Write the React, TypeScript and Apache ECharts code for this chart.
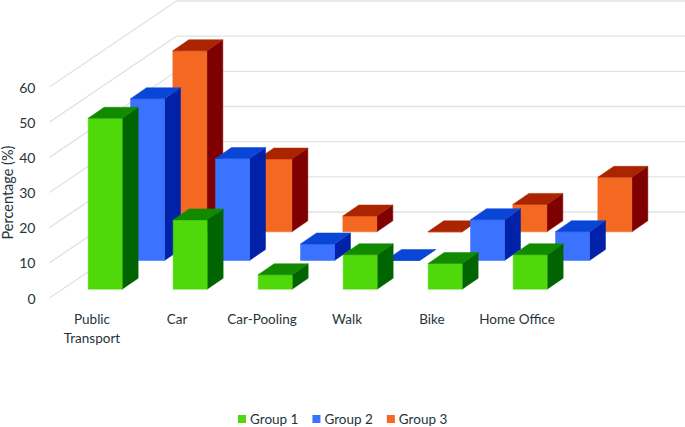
import React, { useEffect, useRef } from "react";
import * as echarts from "echarts";

const categories = ["Public\nTransport", "Car", "Car-Pooling", "Walk", "Bike", "Home Office"];
const group1 = [48.6, 19.7, 4.1, 9.8, 7.3, 9.8];
const group2 = [46, 29, 4.7, 0, 11.6, 8.2];
const group3 = [51.5, 20.7, 4.5, 0, 7.8, 15.5];
const yTicks = [0, 10, 20, 30, 40, 50, 60];

const palette = {
  "Group 1": { front: "#4fd90b", top: "#118a00", side: "#006400" },
  "Group 2": { front: "#3b72ff", top: "#0a46d6", side: "#0021a8" },
  "Group 3": { front: "#f46822", top: "#aa2400", side: "#7f0000" },
};

const WALL_DX = 127;
const WALL_DY = -86;
const BAR_W = 34;
const BAR_DX = 16;
const BAR_DY = -11;
const TEXT = "#26343a";
const FONT = "Lato";

function barSeries(name: "Group 1" | "Group 2" | "Group 3", values: number[], row: number) {
  const c = palette[name];
  return {
    name,
    type: "custom",
    silent: true,
    clip: false,
    z: 10 - row,
    itemStyle: { color: c.front },
    encode: { x: 0, y: 1 },
    data: values.map((v, i) => [i, v]),
    renderItem: (_p: any, api: any) => {
      const idx = api.value(0);
      const topPt = api.coord([idx, api.value(1)]);
      const basePt = api.coord([idx, 0]);
      const ox = (WALL_DX / 3 - BAR_DX) / 2 + (row * WALL_DX) / 3;
      const oy = (WALL_DY / 3 - BAR_DY) / 2 + (row * WALL_DY) / 3;
      const x = topPt[0] - BAR_W / 2 + ox;
      const yt = topPt[1] + oy;
      const yb = basePt[1] + oy;
      const poly = (points: number[][], fill: string) => ({
        type: "polygon",
        shape: { points },
        style: { fill, stroke: fill, lineWidth: 0.5 },
      });
      return {
        type: "group",
        children: [
          poly(
            [[x + BAR_W, yt], [x + BAR_W + BAR_DX, yt + BAR_DY], [x + BAR_W + BAR_DX, yb + BAR_DY], [x + BAR_W, yb]],
            c.side
          ),
          poly([[x, yb], [x + BAR_W, yb], [x + BAR_W, yt], [x, yt]], c.front),
          poly([[x, yt], [x + BAR_DX, yt + BAR_DY], [x + BAR_W + BAR_DX, yt + BAR_DY], [x + BAR_W, yt]], c.top),
        ],
      };
    },
  };
}

export default function App() {
  const ref = useRef<HTMLDivElement>(null);
  useEffect(() => {
    const chart = echarts.init(ref.current!, null, { renderer: "svg" });
    chart.setOption({
      animation: false,
      backgroundColor: "#ffffff",
      textStyle: { fontFamily: FONT },
      grid: { left: 49.5, right: 125.5, top: 87, bottom: 129, outerBoundsMode: "none" },
      legend: {
        data: ["Group 1", "Group 2", "Group 3"],
        left: 238,
        top: 412,
        icon: "rect",
        itemWidth: 8,
        itemHeight: 8,
        itemGap: 14,
        padding: 0,
        textStyle: { color: TEXT, fontSize: 13.5, fontFamily: FONT, padding: [0, 0, 0, -1] },
      },
      xAxis: {
        type: "category",
        data: categories,
        axisLine: { show: false },
        axisTick: { show: false },
        splitLine: { show: false },
        axisLabel: { color: TEXT, fontSize: 13.5, fontFamily: FONT, margin: 11, lineHeight: 19, interval: 0 },
      },
      yAxis: {
        type: "value",
        min: 0,
        max: 60,
        interval: 10,
        name: "Percentage (%)",
        nameLocation: "middle",
        nameGap: 35,
        nameMoveOverlap: false,
        nameTextStyle: { color: TEXT, fontSize: 14.5, fontFamily: FONT },
        axisLine: { show: false },
        axisTick: { show: false },
        splitLine: { show: false },
        axisLabel: { color: TEXT, fontSize: 14, fontFamily: FONT, margin: 14 },
      },
      series: [
        {
          type: "custom",
          name: "walls",
          silent: true,
          clip: false,
          z: 1,
          encode: { y: 0 },
          data: yTicks.map((t) => [t]),
          renderItem: (p: any, api: any) => {
            const y = api.coord([0, api.value(0)])[1];
            const cs = p.coordSys;
            return {
              type: "polyline",
              shape: {
                points: [
                  [cs.x, y],
                  [cs.x + WALL_DX, y + WALL_DY],
                  [685, y + WALL_DY],
                ],
              },
              style: { fill: "none", stroke: "#dde5e5", lineWidth: 1.4 },
            };
          },
        },
        barSeries("Group 3", group3, 2),
        barSeries("Group 2", group2, 1),
        barSeries("Group 1", group1, 0),
      ],
    });
    return () => chart.dispose();
  }, []);
  return <div ref={ref} style={{ position: "fixed", left: 0, top: 0, width: 685, height: 427 }} />;
}
